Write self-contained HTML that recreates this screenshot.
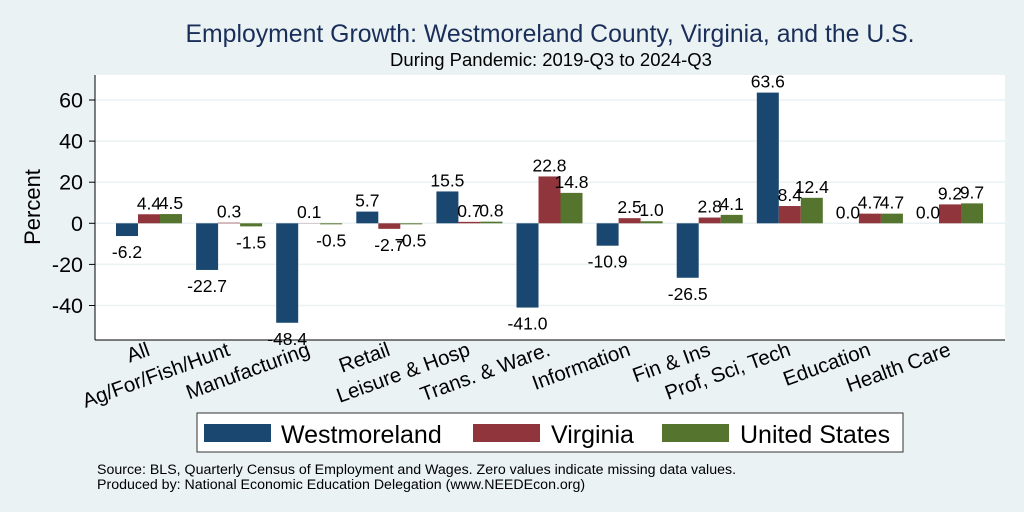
<!DOCTYPE html>
<html><head><meta charset="utf-8"><style>
body{margin:0;background:#eaf2f3;}
svg{display:block;font-family:"Liberation Sans",Arial,sans-serif;}
</style></head><body>
<svg id="chart" width="1024" height="512" viewBox="0 0 1024 512">
<rect x="0" y="0" width="1024" height="512" fill="#eaf2f3"/>
<text x="550" y="42" text-anchor="middle" font-size="24.8" fill="#1a2e5a">Employment Growth: Westmoreland County, Virginia, and the U.S.</text>
<text x="551" y="66" text-anchor="middle" font-size="18.5" fill="#000">During Pandemic: 2019-Q3 to 2024-Q3</text>
<rect x="95" y="75" width="910" height="265" fill="#fff"/>
<g id="grid"></g>
<g id="bars"></g>
<g id="labels"></g>
<line x1="95" y1="75" x2="95" y2="340" stroke="#000" stroke-width="1"/>
<line x1="95" y1="340" x2="1005" y2="340" stroke="#000" stroke-width="1"/>
<g id="yticks"></g>
<g id="xcats"></g>
<text transform="translate(40,207) rotate(-90)" text-anchor="middle" font-size="22">Percent</text>
<g>
<rect x="197" y="413" width="706" height="39" fill="#fff" stroke="#333" stroke-width="1"/>
<rect x="204" y="424" width="67" height="18" fill="#1a476f"/>
<text x="281" y="443" font-size="25">Westmoreland</text>
<rect x="473" y="424" width="67" height="18" fill="#90353b"/>
<text x="551" y="443" font-size="25">Virginia</text>
<rect x="662" y="424" width="67" height="18" fill="#55752f"/>
<text x="740" y="443" font-size="25">United States</text>
</g>
<text x="97" y="474" font-size="14.2">Source: BLS, Quarterly Census of Employment and Wages. Zero values indicate missing data values.</text>
<text x="97" y="489" font-size="14.2">Produced by: National Economic Education Delegation (www.NEEDEcon.org)</text>
</svg>
<script>
const categories=["All","Ag/For/Fish/Hunt","Manufacturing","Retail","Leisure & Hosp","Trans. & Ware.","Information","Fin & Ins","Prof, Sci, Tech","Education","Health Care"];
const westmoreland=[-6.2,-22.7,-48.4,5.7,15.5,-41.0,-10.9,-26.5,63.6,0.0,0.0];
const virginia=[4.4,0.3,0.1,-2.7,0.7,22.8,2.5,2.8,8.4,4.7,9.2];
const unitedStates=[4.5,-1.5,-0.5,-0.5,0.8,14.8,1.0,4.1,12.4,4.7,9.7];
const yTicks=[-40,-20,0,20,40,60];
const NS="http://www.w3.org/2000/svg";
const y0px=223.3, unit=123.3/60;
function yScale(v){return y0px-v*unit;}
function xScale(i){return 116+i*80.1;}
const barW=22;
function mk(tag,attrs,parent){const e=document.createElementNS(NS,tag);for(const k in attrs)e.setAttribute(k,attrs[k]);parent.appendChild(e);return e;}
const grid=document.getElementById('grid'),yt=document.getElementById('yticks');
yTicks.forEach(t=>{
  const y=yScale(t);
  const g=mk('line',{x1:95,x2:1005,y1:y,y2:y,stroke:'#eaf2f3','stroke-width':1.5},grid);
  
  
  const tk=mk('line',{x1:89,x2:95,y1:y,y2:y,stroke:'#000'},yt);
  
  
  const tx=mk('text',{x:83,y:y+7.5,'text-anchor':'end','font-size':21.5},yt);
  tx.textContent=t;
  
  
});
const bars=document.getElementById('bars'),labels=document.getElementById('labels'),xc=document.getElementById('xcats');
const series=[[westmoreland,'#1a476f','westmoreland'],[virginia,'#90353b','virginia'],[unitedStates,'#55752f','united-states']];
categories.forEach((c,i)=>{
  series.forEach((s,j)=>{
    const v=s[0][i];const x=xScale(i)+j*barW;
    const yt2=yScale(Math.max(v,0)),yb=yScale(Math.min(v,0));
    const r=mk('rect',{x:x,y:yt2,width:barW,height:Math.max(yb-yt2,0.01),fill:s[1]},bars);
    
    
    const ly=v>=0?yScale(v)-5:yScale(v)+22;
    const l=mk('text',{x:x+barW/2,y:ly,'text-anchor':'middle','font-size':17.5},labels);
    l.textContent=v.toFixed(1);
    
    
  });
  const cx=xScale(i)+barW*1.5+2, cy=355;
  const t=mk('text',{x:cx,y:cy,'text-anchor':'end','font-size':20.5,transform:'rotate(-20 '+cx+' '+cy+')'},xc);
  t.textContent=c;
  
  
});
</script>
</body></html>
